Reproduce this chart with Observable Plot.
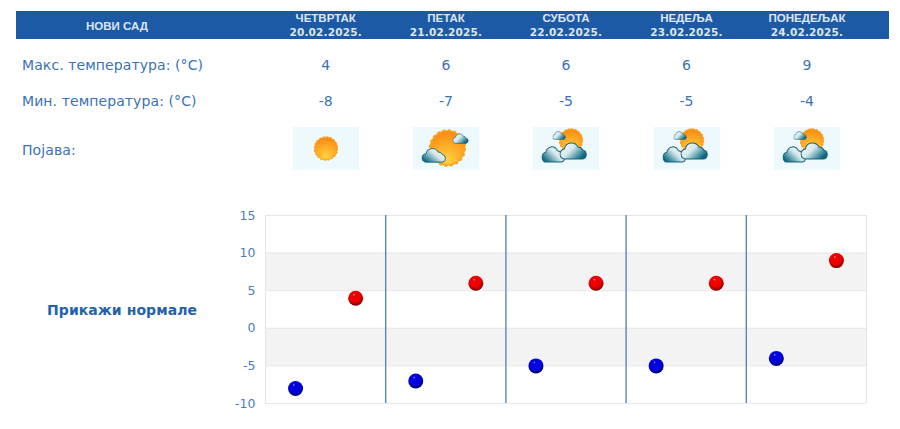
<!DOCTYPE html>
<html><head><meta charset="utf-8">
<script src="https://cdn.jsdelivr.net/npm/d3@7"></script>
<script src="https://cdn.jsdelivr.net/npm/@observablehq/plot@0.6"></script>
<style>
html,body{margin:0;padding:0;background:#fff;width:900px;height:429px;overflow:hidden}
#page{position:relative;width:900px;height:429px;font-family:"DejaVu Sans",sans-serif;color:#2f68ad}
.abs{position:absolute;white-space:nowrap}
#band{left:16px;top:11px;width:873px;height:28px;background:#1c5aa6;}
.hd{color:#dde6f1;font-weight:bold;text-align:center;transform:translateX(-50%);line-height:14px;font-size:11px}
.hd .d1{font-family:"Liberation Sans",Arial,sans-serif;font-size:11.5px}
.hd .d2{font-family:"DejaVu Sans",sans-serif;font-size:10.5px;letter-spacing:.2px}
.lab{font-size:14px;left:22px;color:#3a72b4;letter-spacing:.09px}
.val{font-size:14px;transform:translateX(-50%);color:#3a72b4}
.ic{width:67px;height:43px;transform:translateX(-50%);top:127px}
#norm{left:47px;top:302px;font-weight:bold;font-size:14px;color:#2462ac;letter-spacing:.07px}
#chart{position:absolute;left:0;top:195px}
</style></head><body>
<div id="page"><div class="abs" id="band"></div></div>
<svg width="0" height="0" style="position:absolute">
<defs>
<radialGradient id="sunG" cx=".5" cy=".85" r=".8"><stop offset="0" stop-color="#ffd23f"/><stop offset=".6" stop-color="#ffa826"/><stop offset="1" stop-color="#f98f14"/></radialGradient>
<linearGradient id="cloudG" x1="0" y1="0" x2="1" y2=".6"><stop offset="0" stop-color="#f8fcfd"/><stop offset=".5" stop-color="#d4e8ec"/><stop offset="1" stop-color="#0d6a80"/></linearGradient>
<linearGradient id="cloudL" x1="1" y1="0" x2="0" y2=".7"><stop offset="0" stop-color="#fbfdfe"/><stop offset=".5" stop-color="#d4e8ec"/><stop offset="1" stop-color="#0d6a80"/></linearGradient>
<symbol id="cloud" viewBox="0 0 30 20" preserveAspectRatio="none"><path d="M6 19a5 5 0 0 1-1-10 7.500 7.500 0 0 1 14-2 5.500 5.500 0 0 1 5 3 4.600 4.600 0 0 1 0 9z" fill="url(#cloudG)" stroke="#1b6376" stroke-width="1.100"/></symbol>
<symbol id="cloudLeft" viewBox="0 0 30 20" preserveAspectRatio="none"><path d="M6 19a5 5 0 0 1-1-10 7.500 7.500 0 0 1 14-2 5.500 5.500 0 0 1 5 3 4.600 4.600 0 0 1 0 9z" fill="url(#cloudL)" stroke="#1b6376" stroke-width="1.100"/></symbol>
<symbol id="sun" viewBox="0 0 30 30"><circle cx="15" cy="15" r="14" fill="#f9a01c" stroke="#f9a01c" stroke-width="1.500" stroke-dasharray="2.200 2.200"/><circle cx="15" cy="15" r="13" fill="url(#sunG)"/></symbol>
</defs></svg>
<script>
const city = "НОВИ САД";
const dayNames = ["ЧЕТВРТАК","ПЕТАК","СУБОТА","НЕДЕЉА","ПОНЕДЕЉАК"];
const dates = ["20.02.2025.","21.02.2025.","22.02.2025.","23.02.2025.","24.02.2025."];
const maxTemps = [4,6,6,6,9];
const minTemps = [-8,-7,-5,-5,-4];
const icons = ["sun","sunCloud","cloudSun","cloudSun","cloudSun"];
const yTicks = [-10,-5,0,5,10,15];
const bands = [[5,10],[-5,0]];
const colCentres = [325.7,446,566,686.500,807];

const page = document.getElementById("page");
function add(cls, left, top, html){
  const e = document.createElement("div");
  e.className = "abs " + cls;
  if (left !== null) e.style.left = left + "px";
  if (top !== null) e.style.top = top + "px";
  e.innerHTML = html; page.appendChild(e); return e;
}
add("hd", 117, 19, `<span class="d1" style="font-size:11.5px">${city}</span>`);
dayNames.forEach((d,i)=>add("hd", colCentres[i], 11, `<div class="d1">${d}</div><div class="d2">${dates[i]}</div>`));
add("lab", null, 57, "Макс. температура: (°C)");
add("lab", null, 93, "Мин. температура: (°C)");
add("lab", null, 142, "Појава:");
maxTemps.forEach((v,i)=>add("val", colCentres[i], 57, v));
minTemps.forEach((v,i)=>add("val", colCentres[i], 93, v));
const art = {
 sun:`<use href="#sun" x="21" y="9" width="25" height="25"/>`,
 sunCloud:`<use href="#sun" x="16" y="2" width="38" height="38"/><use href="#cloudLeft" x="9" y="19" width="26" height="17"/><use href="#cloud" x="40" y="5" width="17" height="12"/>`,
 cloudSun:`<use href="#sun" x="26" y="1" width="25" height="25"/><use href="#cloud" x="20" y="3" width="14" height="10"/><use href="#cloudLeft" x="9" y="17" width="25" height="19"/><use href="#cloud" x="27" y="13" width="29" height="20"/>`
};
icons.forEach((k,i)=>{
  add("ic", colCentres[i], null, `<svg width="67" height="43" style="display:block"><rect width="67" height="43" fill="#eef9fe"/>${art[k]}</svg>`);
});
add("", 47, 302, "Прикажи нормале").id = "norm";

const days = d3.range(dayNames.length);
const pointsMax = days.map(i=>({x:i+.75,y:maxTemps[i]}));
const pointsMin = days.map(i=>({x:i+.25,y:minTemps[i]}));
const gradients = () => {
  const s = d3.create("svg:g");
  const defs = s.append("defs");
  const mk = (id, hi, mid, dark) => {
    const g = defs.append("radialGradient").attr("id",id).attr("cx",.48).attr("cy",.42).attr("r",.62).attr("fx",.38).attr("fy",.25);
    [[0,hi],[.14,mid],[.62,mid],[1,dark]].forEach(([o,c])=>g.append("stop").attr("offset",o).attr("stop-color",c));
  };
  mk("ballR","#ffa6a6","#ee0000","#6a0000");
  mk("ballB","#9c9cff","#0000e0","#00005a");
  return s.node();
};
const chart = Plot.plot({
  width: 900, height: 225,
  marginLeft: 265, marginRight: 34, marginTop: 20, marginBottom: 17,
  style:{background:"transparent",fontFamily:"DejaVu Sans, sans-serif",fontSize:"12.5px",color:"#4a7ebb",overflow:"visible"},
  x:{domain:[0,5],axis:null},
  y:{domain:[-10,15],ticks:yTicks,tickFormat:d=>String(d),label:null,tickSize:0,tickPadding:10},
  marks:[
    gradients,
    Plot.rectY(bands,{x1:0,x2:5,y1:d=>d[0],y2:d=>d[1],fill:"#f3f3f3"}),
    Plot.ruleY(yTicks,{stroke:"#e6e6e6",strokeWidth:1}),
    Plot.ruleX([0,5],{stroke:"#e4e4e4",strokeWidth:1}),
    Plot.ruleX(days.slice(1),{stroke:"#4d7fb8",strokeWidth:1.300}),
    Plot.dot(pointsMin,{x:"x",y:"y",r:7.500,fill:"url(#ballB)"}),
    Plot.dot(pointsMax,{x:"x",y:"y",r:7.500,fill:"url(#ballR)"})
  ]
});
document.getElementById("page").appendChild(Object.assign(document.createElement("div"),{id:"chart"})).appendChild(chart);
</script>
</body></html>
